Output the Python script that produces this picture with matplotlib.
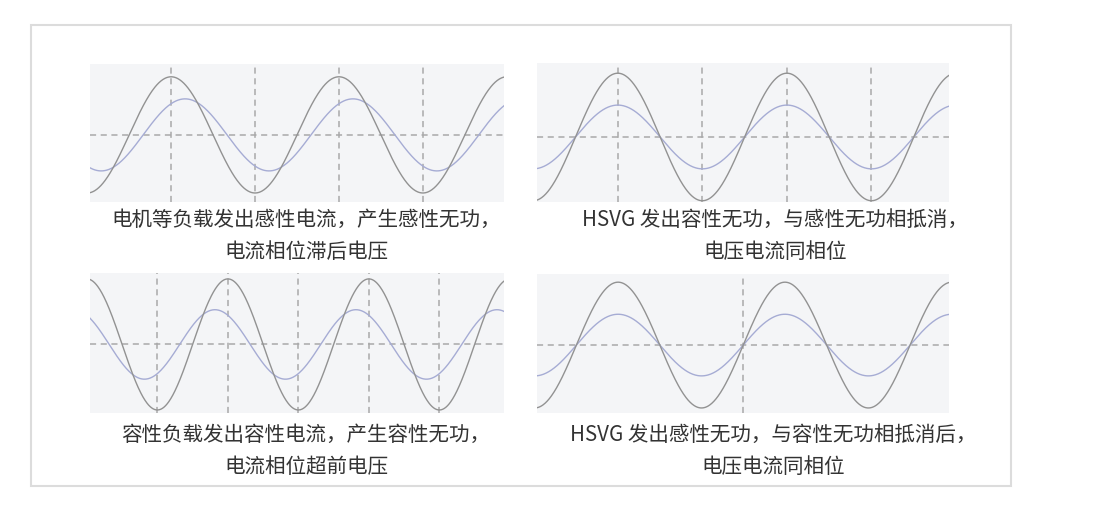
import numpy as np
import matplotlib
matplotlib.use("Agg")
import matplotlib.pyplot as plt
from matplotlib.patches import Rectangle

plt.rcParams['font.family'] = ['Noto Sans CJK SC', 'DejaVu Sans']

# voltage / current waveforms, one entry per panel (x is electrical angle in degrees)
voltage_amp = [1.0, 1.0, 1.0, 1.0]
current_amp = [0.62, 0.50, 0.53, 0.49]
current_shift = [-30, 0, 33, 0]          # + leads, - lags
angle_start = [-174, -172, -352, -175]
angle_end = [714, 705, 705, 714]
grid_x = [[0, 180, 360, 540], [0, 180, 360, 540], [-180, 0, 180, 360, 540], [270]]

captions = [
    ["电机等负载发出感性电流，产生感性无功，", "电流相位滞后电压"],
    ["HSVG 发出容性无功，与感性无功相抵消，", "电压电流同相位"],
    ["容性负载发出容性电流，产生容性无功，", "电流相位超前电压"],
    ["HSVG 发出感性无功，与容性无功相抵消后，", "电压电流同相位"],
]

W, H = 1097, 509

# axes boxes in pixels: left, top, right, bottom
boxes = [(90, 64, 504, 202), (537, 63, 949, 202), (90, 273, 504, 413), (537, 274, 949, 413)]
ylims = [(-1.155, 1.22), (-1.02, 1.16), (-1.046, 1.09), (-1.08, 1.13)]
text_x = [306, 775, 306, 773]
text_y = [(220, 252), (220, 252), (435, 467), (435, 467)]


def px_box(l, t, r, b):
    return [l / W, 1 - b / H, (r - l) / W, (b - t) / H]


def draw_panel(fig, i):
    ax = fig.add_axes(px_box(*boxes[i]))
    ax.set_facecolor('#f4f5f7')
    theta = np.linspace(angle_start[i], angle_end[i], 800)
    v = voltage_amp[i] * np.cos(np.radians(theta))
    c = current_amp[i] * np.cos(np.radians(theta + current_shift[i]))

    for gx in grid_x[i]:
        ax.axvline(gx, color='#a9a9a9', lw=1.1, ls=(0, (4, 3)), zorder=1)
    ax.axhline(0, color='#a9a9a9', lw=1.1, ls=(0, (4, 3)), zorder=1)

    ax.plot(theta, v, color='#929292', lw=1.0, zorder=3)
    ax.plot(theta, c, color='#a6acd4', lw=1.0, zorder=2)

    ax.set_xlim(angle_start[i], angle_end[i])
    ax.set_ylim(*ylims[i])
    ax.set_xticks([])
    ax.set_yticks([])
    for s in ax.spines.values():
        s.set_visible(False)

    for line, ty in zip(captions[i], text_y[i]):
        fig.text(text_x[i] / W, 1 - ty / H, line, ha='center', va='center',
                 fontsize=14.8, color='#333333')


def main():
    fig = plt.figure(figsize=(W / 100, H / 100), dpi=100)
    fig.patch.set_facecolor('white')

    # outer frame
    fig.patches.append(Rectangle((31 / W, 1 - 486 / H), 980 / W, 461 / H,
                                 transform=fig.transFigure, fill=False,
                                 edgecolor='#dcdcdc', lw=1.5))

    for i in range(4):
        draw_panel(fig, i)

    fig.savefig('out.png', dpi=100)
    return


main()
